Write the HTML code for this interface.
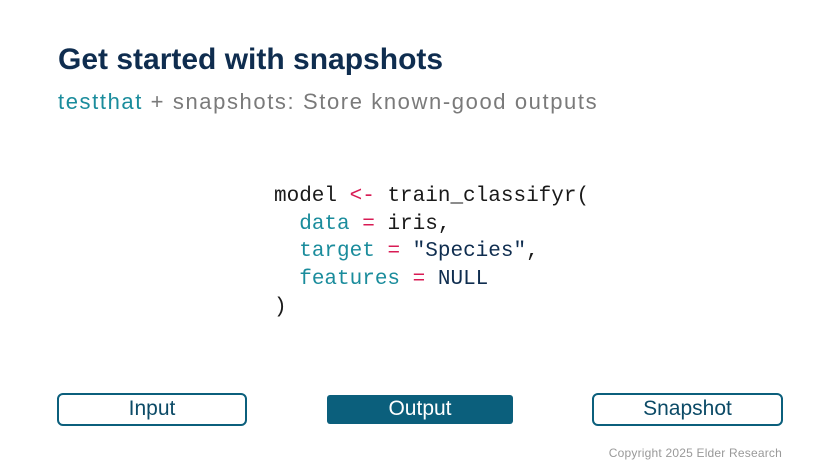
<!DOCTYPE html>
<html><head><style>
body{margin:0;width:840px;height:473px;background:#fff;position:relative;overflow:hidden;font-family:"Liberation Sans",sans-serif}
.t{position:absolute;left:58px;top:43px;font-size:30px;font-weight:bold;color:#0f2d4f}
.s{position:absolute;left:58px;top:89px;font-size:22px;letter-spacing:1.6px;color:#7a7a7a}
.s b{color:#1a8c9c;font-weight:normal}
pre{position:absolute;left:274px;top:183px;margin:0;font-family:"Liberation Mono",monospace;font-size:21px;line-height:27.7px;color:#1a1a1a}
.k{color:#d81b54}.a{color:#1a8c9c}.v{color:#0f2d4f}
.b{position:absolute;box-sizing:border-box;font-size:21px;text-align:center;color:#0b4a66;border-radius:6px}
.o{border:2.5px solid #0b5f7c}
.c{position:absolute;right:58px;top:446px;font-size:12px;letter-spacing:0.2px;color:#999}
</style></head><body>
<div class="t">Get started with snapshots</div>
<div class="s"><b>testthat</b> + snapshots: Store known-good outputs</div>
<pre>model <span class="k">&lt;-</span> train_classifyr(
  <span class="a">data</span> <span class="k">=</span> iris,
  <span class="a">target</span> <span class="k">=</span> <span class="v">"Species"</span>,
  <span class="a">features</span> <span class="k">=</span> <span class="v">NULL</span>
)</pre>
<div class="b o" style="left:57px;top:393px;width:190px;height:33px;line-height:28px">Input</div>
<div class="b" style="left:327px;top:395px;width:186px;height:29px;line-height:28px;background:#0b5f7c;color:#fff;border-radius:3px">Output</div>
<div class="b o" style="left:592px;top:393px;width:191px;height:33px;line-height:28px">Snapshot</div>
<div class="c">Copyright 2025 Elder Research</div>
</body></html>
